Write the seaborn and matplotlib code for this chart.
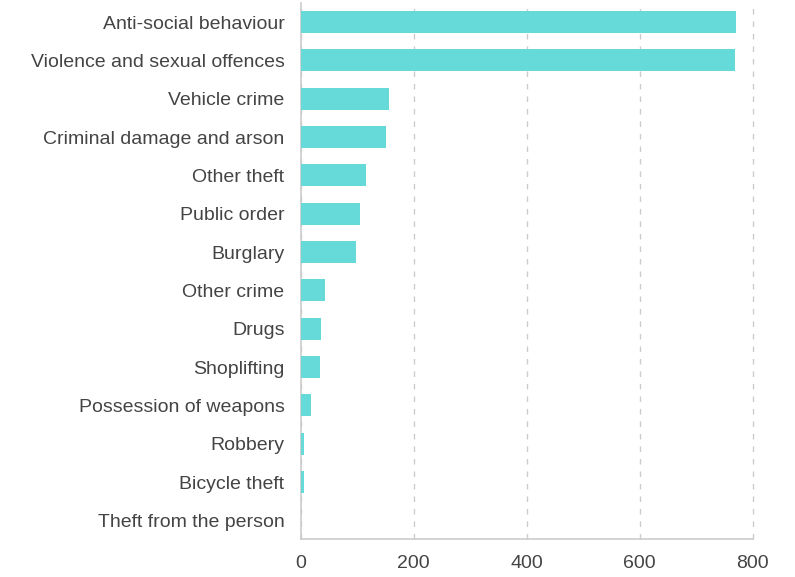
import pandas as pd
import seaborn as sns
import matplotlib.pyplot as plt

# crime counts
categories = ["Anti-social behaviour", "Violence and sexual offences", "Vehicle crime",
              "Criminal damage and arson", "Other theft", "Public order", "Burglary",
              "Other crime", "Drugs", "Shoplifting", "Possession of weapons",
              "Robbery", "Bicycle theft", "Theft from the person"]
counts = [770, 768, 157, 151, 115, 105, 98, 44, 36, 35, 18, 7, 6, 1]
x_ticks = [0, 200, 400, 600, 800]

df = pd.DataFrame({"category": categories, "count": counts})

sns.set_style("white")
plt.rcParams["font.family"] = ["Liberation Sans", "DejaVu Sans"]

fig = plt.figure(figsize=(7.95, 5.77), dpi=100)
ax = fig.add_axes([0.378, 0.065, 0.569, 0.93])

sns.barplot(data=df, x="count", y="category", color="#66d9d9", width=0.58,
            saturation=1, linewidth=0, ax=ax, zorder=3)

ax.set_xlim(0, 800)
ax.set_ylim(13.5, -0.5)
ax.set_xticks(x_ticks)
ax.set_xlabel("")
ax.set_ylabel("")
ax.grid(axis="x", color="#cccccc", linestyle=(0, (4, 5)), linewidth=1, zorder=0)
ax.grid(axis="y", visible=False)
for line in ax.get_xgridlines():
    line.set_clip_on(False)

for side in ["top", "right"]:
    ax.spines[side].set_visible(False)
for side in ["left", "bottom"]:
    ax.spines[side].set_color("#cccccc")
    ax.spines[side].set_linewidth(1.2)
    ax.spines[side].set_zorder(2)

ax.tick_params(axis="y", length=0, pad=11.5, labelsize=14, labelcolor="#444444")
ax.tick_params(axis="x", length=5, width=1, color="#cccccc", pad=6,
               labelsize=14, labelcolor="#444444")

plt.savefig("out.png", dpi=100)
